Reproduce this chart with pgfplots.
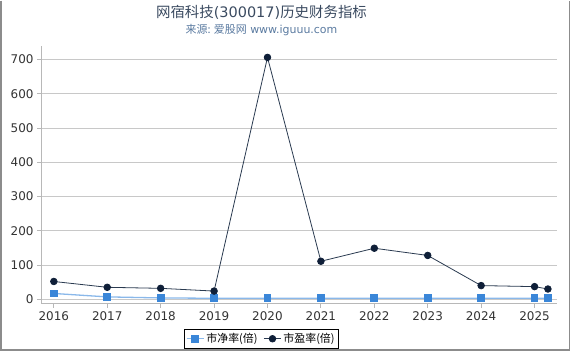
\documentclass[border=0pt]{standalone}
\usepackage{fontspec}
\setmainfont{DejaVu Sans}
\newfontfamily\cjk{Noto Sans CJK SC}
\usepackage{pgfplots}
\pgfplotsset{compat=1.18}
\definecolor{pbblue}{HTML}{3A86D8}
\definecolor{pbline}{HTML}{8AB8EA}
\definecolor{penavy}{HTML}{0F1F38}
\definecolor{peline}{HTML}{2A3A50}
\definecolor{titlec}{HTML}{3A4A60}
\definecolor{subc}{HTML}{5A7AA0}
\definecolor{gridc}{HTML}{C8C8C8}
\definecolor{axc}{HTML}{B8B8B8}
\definecolor{tickc}{HTML}{333333}
\begin{document}
\begin{tikzpicture}
\path (0bp,0bp) rectangle (570bp,350bp);
\draw[gray!90, line width=1.5bp] (0.75bp,350bp) -- (0.75bp,0.75bp) -- (569.25bp,0.75bp) -- (569.25bp,350bp);
\node[text=titlec, font=\fontsize{14.5}{16}\selectfont] at (261.5bp,338bp) {{\cjk 网宿科技}(300017){\cjk 历史财务指标}};
\node[text=subc, font=\fontsize{11}{12}\selectfont] at (261.5bp,321bp) {{\cjk 来源: 爱股网} www.iguuu.com};
\begin{axis}[
  at={(41bp,47bp)}, anchor=south west,
  scale only axis, width=516bp, height=258bp,
  xmin=2015.76, xmax=2025.42,
  ymin=-13, ymax=740,
  axis x line*=bottom, axis y line*=left,
  axis line style={axc, line width=0.8bp},
  xtick={2016,...,2025},
  ytick={0,100,...,700},
  xticklabel style={text=tickc, font=\fontsize{12}{13}\selectfont},
  yticklabel style={text=tickc, font=\fontsize{12}{13}\selectfont},
  /pgf/number format/assume math mode=true,
  /pgf/number format/1000 sep={},
  tick style={axc, line width=0.8bp},
  tick align=outside, major tick length=4bp,
  ymajorgrids, grid style={gridc, line width=0.8bp},
  clip=false,
  legend style={at={(0.427,-0.1357)}, anchor=center, draw=black, line width=0.6bp,
     font=\fontsize{11}{12}\selectfont, legend columns=2,
     /tikz/every even column/.append style={column sep=4bp},
     inner sep=2bp},
  legend cell align=left,
]
\addplot[pbline, line width=1.3bp, mark=square*, mark size=3.2bp, mark options={fill=pbblue, draw=pbblue}]
 coordinates {(2016,17) (2017,7) (2018,4) (2019,3) (2020,3) (2021,3) (2022,3) (2023,3) (2024,3) (2025,3) (2025.25,3)};
\addlegendentry{\cjk 市净率(倍)}
\addplot[peline, line width=0.8bp, mark=*, mark size=3.3bp, mark options={fill=penavy, draw=penavy}]
 coordinates {(2016,52) (2017,35) (2018,32) (2019,24) (2020,706) (2021,111) (2022,149) (2023,128) (2024,40) (2025,37) (2025.25,30)};
\addlegendentry{\cjk 市盈率(倍)}
\end{axis}
\end{tikzpicture}
\end{document}
